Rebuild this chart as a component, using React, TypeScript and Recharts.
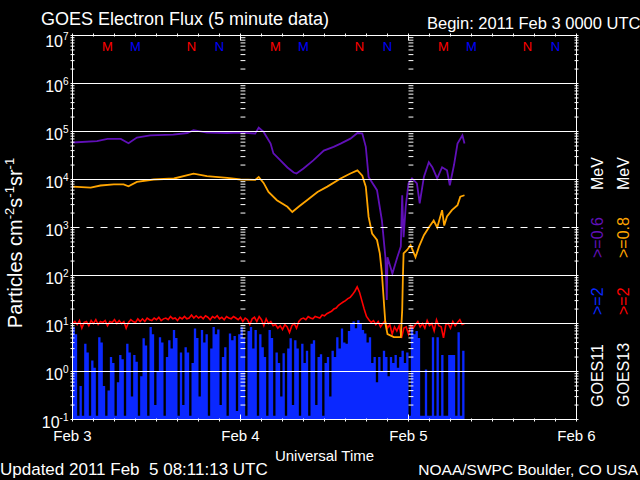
import React from "react";
import { ComposedChart, Line, Area, XAxis, YAxis, ReferenceLine } from "recharts";

const FONT = "'Liberation Sans', Arial, sans-serif";

// hours after 2011 Feb 3 00:00 UT
const purpleHours = [
  0, 3.5, 5, 6.9, 8, 9.2, 11.1, 14.4, 16.4, 17.3, 19.2, 22.1, 24, 26.1, 26.6, 27.3, 28.3, 28.7, 29.7, 30.7,
  31.6, 32, 33, 34.4, 35.9, 37.3, 38.3, 39.7, 40.7, 41.4, 41.9, 42.3, 43.5, 44.2, 44.7, 44.9, 45.0, 45.7, 46.4, 46.9,
  47.1, 47.3, 47.6, 48.0, 48.5, 49.2, 49.6, 50.2, 50.9, 51.4, 52.1, 52.8, 53.5, 53.9, 54.5, 55.0, 55.7, 56.0,
];
const purpleFlux = [
  5.9e4, 6.3e4, 7.0e4, 7.0e4, 5.7e4, 7.5e4, 8.3e4, 8.6e4, 9.3e4, 1.07e5, 9.5e4, 9.3e4, 9.5e4, 9.1e4, 1.2e5, 9.8e4, 5.6e4, 3.5e4, 2.5e4, 1.78e4,
  1.4e4, 1.33e4, 1.7e4, 2.5e4, 4.0e4, 4.8e4, 5.6e4, 7.1e4, 9.3e4, 9.1e4, 4.8e4, 1.13e4, 6.0e3, 1.4e3, 240, 31, 240, 110, 240, 400,
  4.7e3, 630, 2.7e3, 8.3e3, 1.05e4, 8.3e3, 3.2e3, 1.13e4, 2.3e4, 1.8e4, 1.05e4, 1.8e4, 1.55e4, 7.6e3, 2.0e4, 5.6e4, 8.3e4, 5.6e4,
];

const orangeHours = [
  0, 2.6, 4, 5.9, 7.3, 8, 9.2, 11.6, 14.5, 17.3, 19.2, 22.1, 24, 26.1, 26.6, 27.3, 28, 29.2, 30.7, 31.4,
  32.3, 33.5, 35, 36.4, 38.3, 39.7, 40.7, 41.4, 41.9, 42.3, 42.8, 43.5, 43.9, 44.2, 44.6, 44.7, 45, 45.9, 46.9, 47.1,
  47.2, 47.3, 47.8, 48.3, 49, 49.5, 50.2, 50.9, 51.6, 52.1, 52.8, 53.1, 53.5, 54.2, 55, 55.4, 56,
];
const orangeFlux = [
  7.1e3, 6.8e3, 7.5e3, 7.9e3, 7.9e3, 7.2e3, 8.9e3, 1.0e4, 1.05e4, 1.33e4, 1.17e4, 1.08e4, 1.0e4, 9.8e3, 1.13e4, 8.5e3, 5.5e3, 3.7e3, 2.7e3, 2.1e3,
  2.7e3, 3.7e3, 5.5e3, 7.1e3, 1.05e4, 1.33e4, 1.55e4, 1.2e4, 7.1e3, 1.66e3, 750, 550, 290, 110, 16, 10, 6, 5.2, 5.2, 19,
  93, 290, 340, 430, 240, 400, 690, 1.0e3, 1.4e3, 1.0e3, 2.3e3, 1.1e3, 1.7e3, 2.3e3, 2.9e3, 4.4e3, 4.7e3,
];

// 20 minute samples from Feb 3 00:00
const sampleMinutes = 20;
const redFlux = [
  10, 11, 9.5, 11.5, 8, 10.5, 11, 9, 11.5, 10,
  12, 9.5, 11, 10.5, 11.5, 9, 11, 10.5, 12, 10,
  11.5, 10, 11, 8, 10.5, 12, 11, 10.5, 12.5, 11,
  12.5, 11, 13, 12, 11.5, 13, 12, 13.5, 11.5, 12.5,
  13, 12, 14, 12.5, 13, 11.5, 13.5, 12.5, 14, 12.5,
  13, 15, 13, 14.5, 13, 14, 12.5, 14.5, 13.5, 12,
  14, 13, 14.5, 12.5, 13.5, 12, 14, 13, 12.5, 14,
  13, 12, 13.5, 11, 13, 12, 9.5, 12.5, 13.5, 11,
  14, 12, 9, 12.5, 10, 11, 9, 9.5, 8, 9,
  7.5, 9.5, 8.5, 6.5, 9, 10, 8, 11, 12.5, 13,
  12, 14, 13, 12.5, 14, 13.5, 13, 15, 14.5, 16,
  17, 18, 20, 21, 24, 26, 28, 30, 33, 35,
  40, 47, 58, 45, 30, 20, 14, 12, 10.5, 11.5,
  9.5, 11, 8.5, 10, 11.5, 8, 9.5, 6, 8.5, 7,
  9, 5, 8, 8.5, 6, 9, 8, 9.5, 11, 8.5,
  10, 8, 11.5, 9, 10, 7, 12, 9, 8.5, 5,
  9.5, 10, 8, 11, 9, 10.5, 12, 9.5, 10,
];
const blueFlux = [
  8.5, 6, 0.12, 0.5, 0.12, 3.8, 2.5, 0.12, 1.7, 1.2,
  0.12, 5.2, 4, 0.5, 0.12, 0.4, 2, 1.5, 0.12, 0.6,
  2.2, 1.8, 0.12, 3.8, 2.5, 0.3, 2.2, 1.6, 0.12, 0.8,
  4.9, 3.5, 0.12, 8.5, 6, 0.2, 1, 5.2, 4, 0.12,
  2, 4.5, 3, 7.3, 5, 0.12, 2.5, 0.2, 3.2, 2.5,
  0.12, 1.5, 7.9, 5, 0.3, 7.3, 4, 6, 0.12, 3,
  8.5, 6, 7.5, 0.2, 2, 3.2, 0.12, 6.2, 4.5, 5.5,
  0.15, 6, 8.5, 5, 0.12, 7, 8.5, 3, 7.3, 0.12,
  6, 3.2, 2, 0.12, 7.3, 5, 0.12, 2.5, 1.5, 0.3,
  2.4, 0.12, 3, 4.9, 0.2, 4.5, 3, 0.12, 3.8, 1.5,
  2.7, 0.12, 3.8, 4.5, 0.2, 2, 2.3, 0.12, 1.5, 2,
  0.3, 2.7, 2, 5.2, 3, 7.9, 4, 3.8, 7, 10,
  11, 8, 11.7, 10, 7.3, 6.2, 4, 5.2, 1.5, 2,
  0.6, 2, 1, 2.7, 2, 0.8, 2, 1.5, 2.2, 1.2,
  2, 2.7, 1.5, 2.5, 0.12, 8.6, 6, 7, 5, 0.12,
  0.12, 1.1, 0.12, 0.12, 5.2, 0.12, 5.2, 0.12, 2.2, 0.12,
  0.12, 2.2, 2.2, 2.2, 0.12, 6.6, 0.12, 2.7, 0.12,
];

const dayHours = [0, 24, 48, 72];
const dayLabels = ["Feb 3", "Feb 4", "Feb 5", "Feb 6"];
const hourTicks = [0, 3, 6, 9, 12, 15, 18, 21, 24, 27, 30, 33, 36, 39, 42, 45, 48, 51, 54, 57, 60, 63, 66, 69, 72];
const decades = [0.1, 1, 10, 100, 1e3, 1e4, 1e5, 1e6, 1e7];
const solidGrid = [1, 10, 100, 1e4, 1e5, 1e6];
const dashedGrid = [1e3];

// local midnight / noon markers, GOES-13 (red) and GOES-11 (blue)
const markHours = [5, 9, 17, 21, 29, 33, 41, 45, 53, 57, 65, 69];
const markLetters = ["M", "M", "N", "N", "M", "M", "N", "N", "M", "M", "N", "N"];
const markSats = [13, 11, 13, 11, 13, 11, 13, 11, 13, 11, 13, 11];

const COLORS = { purple: "#6010b8", orange: "#ffa500", red: "#ff0000", blue: "#0a28ff", mark11: "#0000ff" };

const minorTicks = decades.slice(0, -1).flatMap((d) => [2, 3, 4, 5, 6, 7, 8, 9].map((m) => m * d));
const yTicks = [...decades, ...minorTicks].sort((a, b) => a - b);
const topTicks = Array.from(new Set([...hourTicks, ...markHours])).sort((a, b) => a - b);

const gridRows = redFlux.map((r, i) => ({ t: (i * sampleMinutes) / 60, red: r, blue: blueFlux[i] }));
const purpleRows = purpleHours.map((t, i) => ({ t, flux: purpleFlux[i] }));
const orangeRows = orangeHours.map((t, i) => ({ t, flux: orangeFlux[i] }));

function decadeOf(v: number) {
  const e = Math.round(Math.log10(v));
  return Math.abs(Math.log10(v) - e) < 1e-6 ? e : null;
}

function LeftTick(props: any) {
  const { x, y, payload } = props;
  const e = decadeOf(payload.value);
  if (e === null) return <line x1={x} x2={x + 4} y1={y} y2={y} stroke="#fff" />;
  return (
    <g>
      <line x1={x} x2={x + 7} y1={y} y2={y} stroke="#fff" />
      <text x={x - 2} y={y + (e === 7 ? 11 : 8)} textAnchor="end" fill="#fff" fontFamily={FONT} fontSize={16}>
        10
        <tspan fontSize={10} dy={-7}>{e}</tspan>
      </text>
    </g>
  );
}

function RightTick(props: any) {
  const { x, y, payload } = props;
  const len = decadeOf(payload.value) === null ? 4 : 7;
  return <line x1={x} x2={x - len} y1={y} y2={y} stroke="#fff" />;
}

function BottomTick(props: any) {
  const { x, y, payload } = props;
  const di = dayHours.indexOf(payload.value);
  return (
    <g>
      <line x1={x} x2={x} y1={y} y2={y - (di >= 0 ? 7 : 3)} stroke="#fff" />
      {di >= 0 && (
        <text x={x} y={y + 19} textAnchor="middle" fill="#fff" fontFamily={FONT} fontSize={15}>
          {dayLabels[di]}
        </text>
      )}
    </g>
  );
}

function TopTick(props: any) {
  const { x, y, payload } = props;
  const h = payload.value;
  const isHour = hourTicks.includes(h);
  const mi = markHours.indexOf(h);
  return (
    <g>
      {isHour && <line x1={x} x2={x} y1={y} y2={y + (dayHours.includes(h) ? 7 : 3)} stroke="#fff" />}
      {mi >= 0 && (
        <text x={x} y={y + 17} textAnchor="middle" fontFamily={FONT} fontSize={13}
          fill={markSats[mi] === 13 ? COLORS.red : COLORS.mark11}>
          {markLetters[mi]}
        </text>
      )}
    </g>
  );
}

function Overlay() {
  const t = { fontFamily: FONT, fill: "#fff" };
  const col1 = 603;
  const col2 = 628.5;
  const vt = (x: number, y: number, fill: string, s: string) => (
    <text x={x} y={y} transform={`rotate(-90 ${x} ${y})`} fontFamily={FONT} fontSize={16} fill={fill}>{s}</text>
  );
  return (
    <svg width={640} height={480} style={{ position: "absolute", left: 0, top: 0, pointerEvents: "none" }}>
      <text x={41} y={25} fontSize={18} {...t}>GOES Electron Flux (5 minute data)</text>
      <text x={427} y={29} fontSize={16.5} {...t}>Begin: 2011 Feb 3 0000 UTC</text>
      <text x={22} y={243} transform="rotate(-90 22 243)" textAnchor="middle" fontSize={20} {...t}>
        Particles cm<tspan fontSize={13} dy={-8}>-2</tspan>
        <tspan dy={8}>s</tspan><tspan fontSize={13} dy={-8}>-1</tspan>
        <tspan dy={8}>sr</tspan><tspan fontSize={13} dy={-8}>-1</tspan>
      </text>
      <text x={324.5} y={461} textAnchor="middle" fontSize={15} {...t}>Universal Time</text>
      <text x={0} y={475} fontSize={17} style={{ whiteSpace: "pre" }} {...t}>Updated 2011 Feb  5 08:11:13 UTC</text>
      <text x={638} y={475} textAnchor="end" fontSize={15.5} {...t}>NOAA/SWPC Boulder, CO USA</text>
      {vt(col1, 407, "#fff", "GOES11")}
      {vt(col1, 315, COLORS.blue, ">=2")}
      {vt(col1, 258, COLORS.purple, ">=0.6")}
      {vt(col1, 190, "#fff", "MeV")}
      {vt(col2, 407, "#fff", "GOES13")}
      {vt(col2, 315, COLORS.red, ">=2")}
      {vt(col2, 258, COLORS.orange, ">=0.8")}
      {vt(col2, 190, "#fff", "MeV")}
    </svg>
  );
}

export default function App() {
  return (
    <div style={{ position: "relative", width: 640, height: 480, background: "#000" }}>
      <style>{"body{margin:0;background:#000}"}</style>
      <ComposedChart width={640} height={480} data={gridRows} margin={{ top: 0.5, right: 0.5, bottom: 0.5, left: 0.5 }}>
        <XAxis xAxisId="b" dataKey="t" type="number" domain={[0, 72]} ticks={hourTicks} interval={0}
          allowDataOverflow height={60} tickSize={0} tickLine={false} axisLine={{ stroke: "#fff" }}
          tick={(p: any) => <BottomTick {...p} />} />
        <XAxis xAxisId="top" orientation="top" dataKey="t" type="number" domain={[0, 72]} ticks={topTicks} interval={0}
          allowDataOverflow height={35} tickSize={0} tickLine={false} axisLine={{ stroke: "#fff" }}
          tick={(p: any) => <TopTick {...p} />} />
        <YAxis yAxisId="l" type="number" scale="log" domain={[0.1, 1e7]} ticks={yTicks} interval={0}
          allowDataOverflow width={72} tickSize={0} tickLine={false} axisLine={{ stroke: "#fff" }}
          tick={(p: any) => <LeftTick {...p} />} />
        <YAxis yAxisId="r" orientation="right" type="number" scale="log" domain={[0.1, 1e7]} ticks={yTicks} interval={0}
          allowDataOverflow width={63} tickSize={0} tickLine={false} axisLine={{ stroke: "#fff" }}
          tick={(p: any) => <RightTick {...p} />} />

        <Area xAxisId="b" yAxisId="l" dataKey="blue" type="stepAfter" baseValue="dataMin"
          fill={COLORS.blue} fillOpacity={1} stroke="none" isAnimationActive={false} />
        <Line xAxisId="b" yAxisId="l" dataKey="red" type="linear" stroke={COLORS.red} strokeWidth={1.6}
          dot={false} isAnimationActive={false} />
        <Line xAxisId="b" yAxisId="l" data={orangeRows} dataKey="flux" type="linear" stroke={COLORS.orange}
          strokeWidth={1.8} dot={false} isAnimationActive={false} />
        <Line xAxisId="b" yAxisId="l" data={purpleRows} dataKey="flux" type="linear" stroke={COLORS.purple}
          strokeWidth={1.8} dot={false} isAnimationActive={false} />

        {solidGrid.map((v) => (
          <ReferenceLine key={`g${v}`} xAxisId="b" yAxisId="l" y={v} stroke="#fff" strokeWidth={1} />
        ))}
        {dashedGrid.map((v) => (
          <ReferenceLine key={`d${v}`} xAxisId="b" yAxisId="l" y={v} stroke="#fff" strokeDasharray="7 7" />
        ))}
        {[24, 48].flatMap((d) =>
          minorTicks.map((v) => (
            <ReferenceLine key={`m${d}-${v}`} xAxisId="b" yAxisId="l" stroke="#fff"
              segment={[{ x: d, y: v }, { x: d + 0.7, y: v }]} />
          ))
        )}
      </ComposedChart>
      <Overlay />
    </div>
  );
}
